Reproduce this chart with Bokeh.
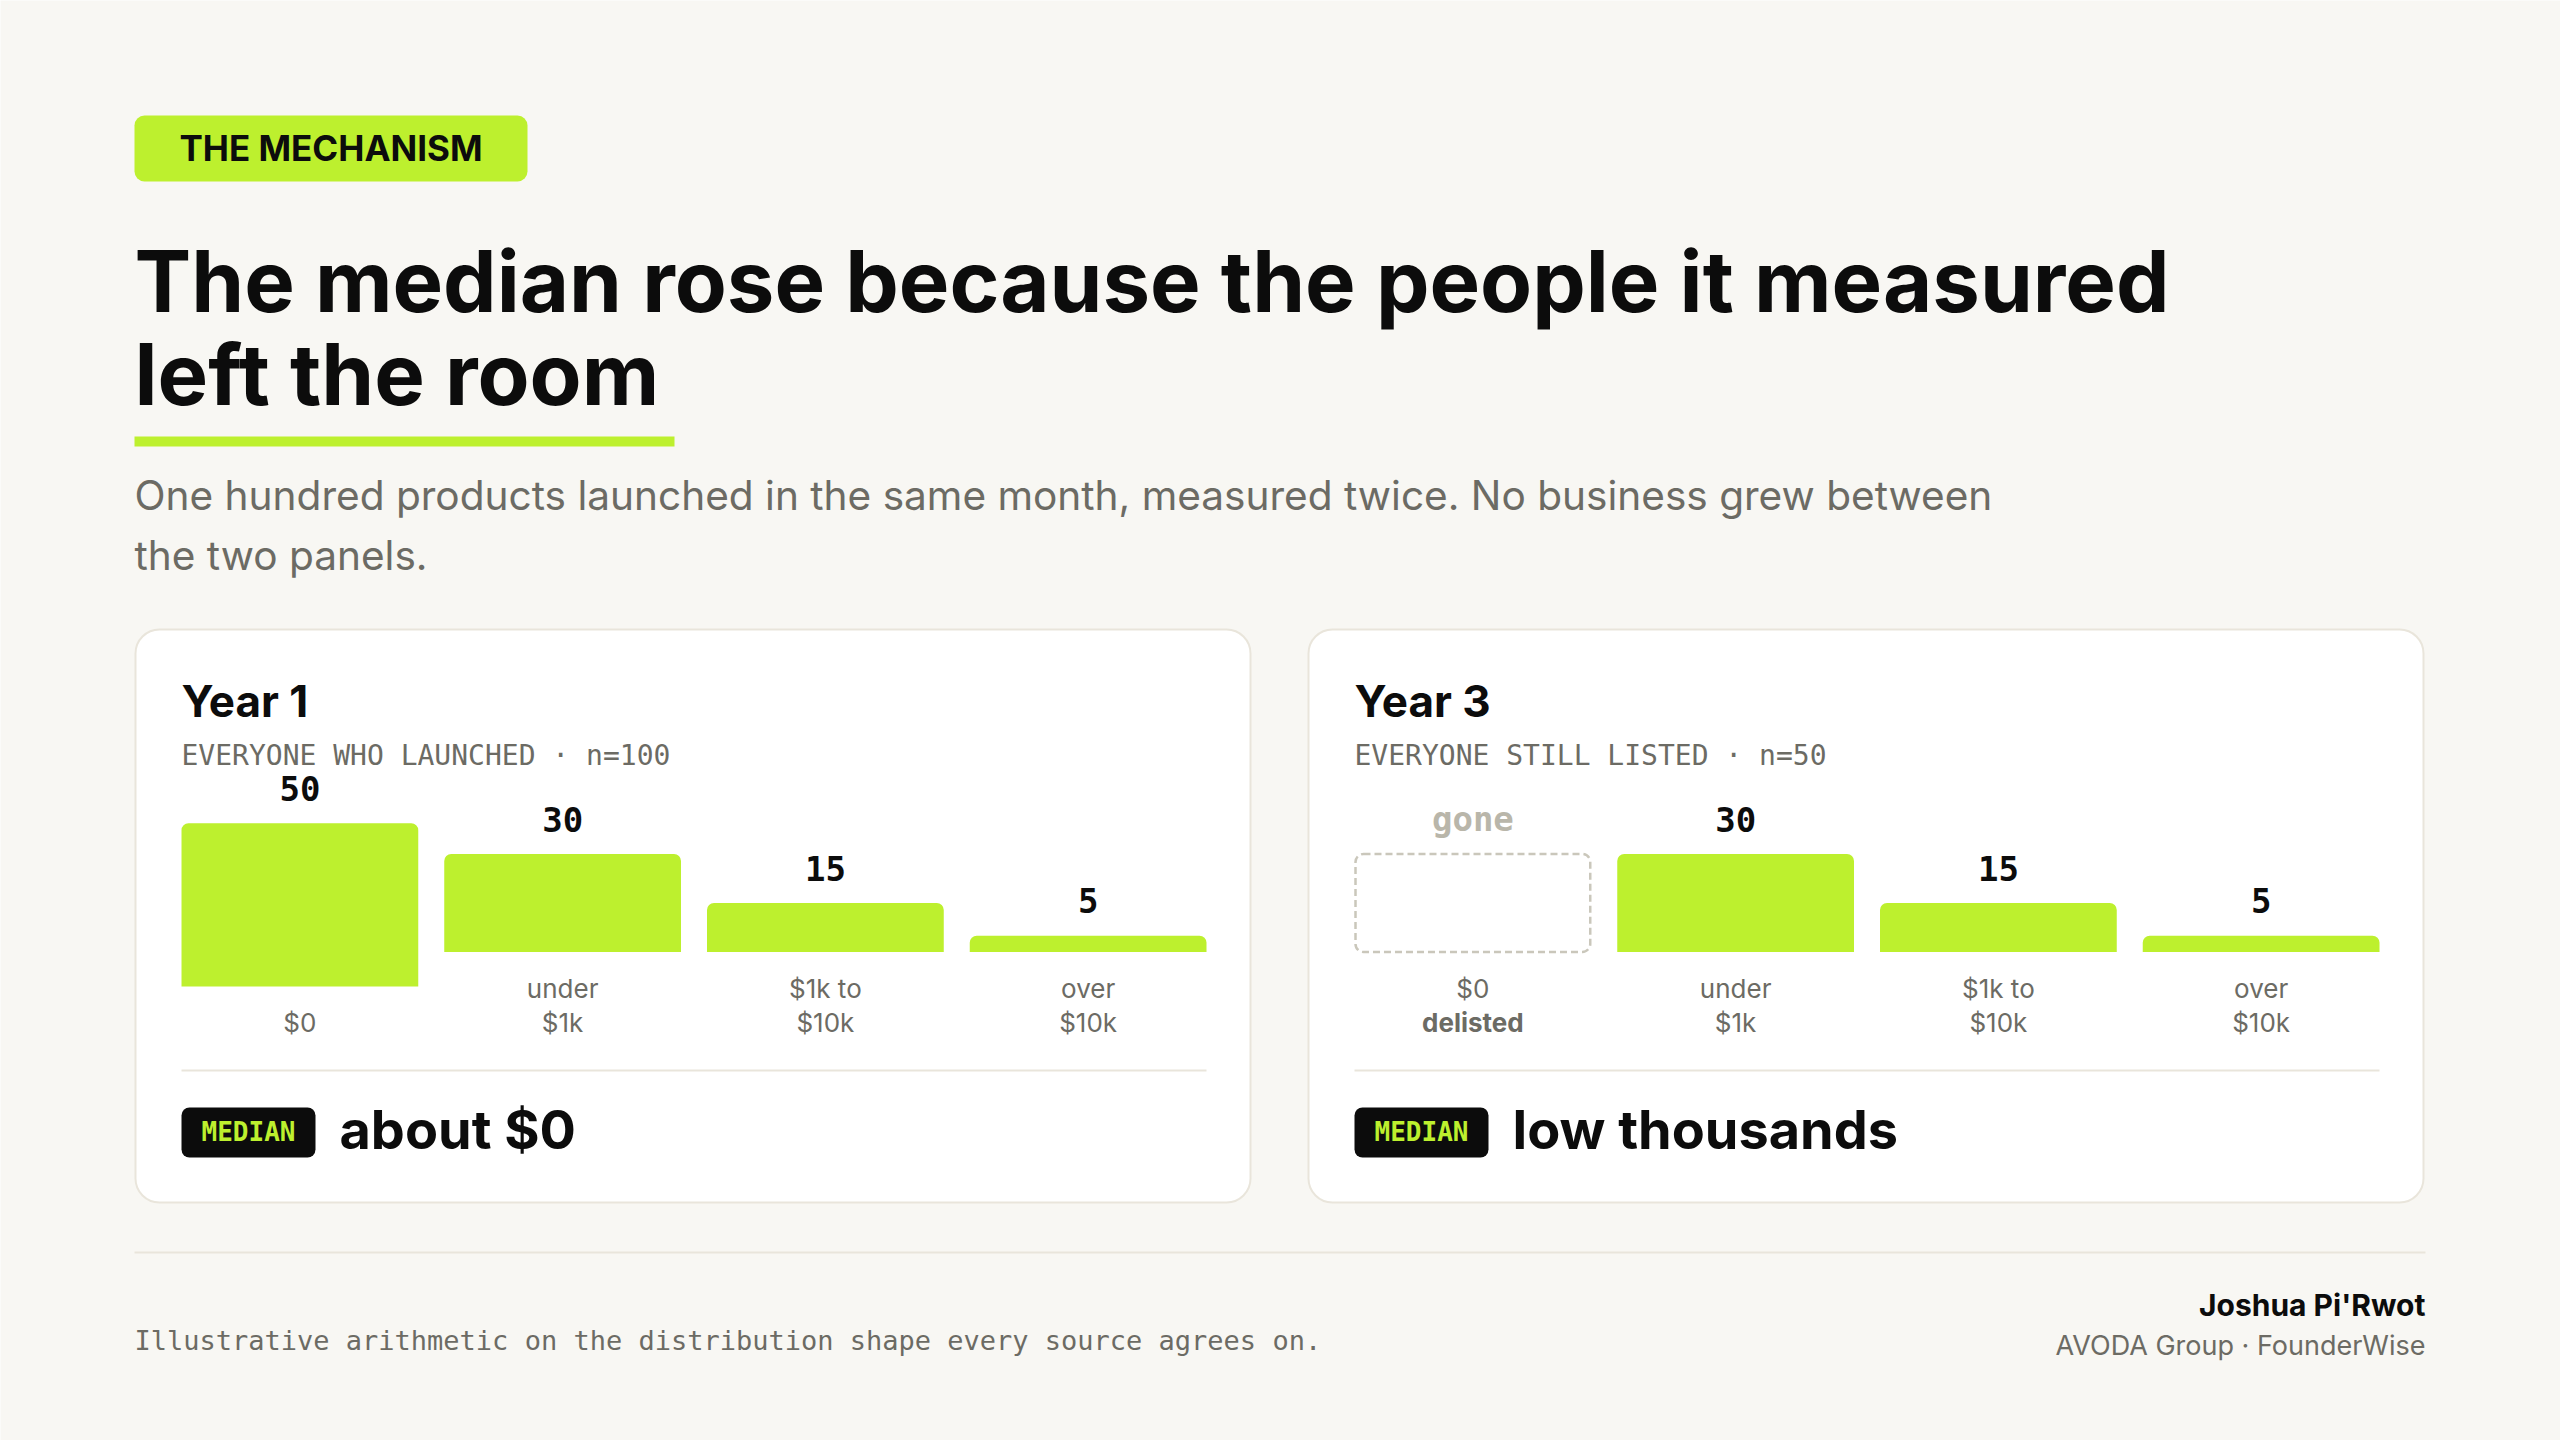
from bokeh.plotting import figure
from bokeh.models import Range1d
from bokeh.core.properties import value
from bokeh.embed import file_html
from bokeh.resources import INLINE

# ---------------- data ----------------
tag_text = "THE MECHANISM"
title_lines = ["The median rose because the people it measured", "left the room"]
subtitle_lines = ["One hundred products launched in the same month, measured twice. No business grew between",
                  "the two panels."]
panel_titles = ["Year 1", "Year 3"]
panel_subtitles = ["EVERYONE WHO LAUNCHED · n=100", "EVERYONE STILL LISTED · n=50"]
year1_labels = [["$0"], ["under", "$1k"], ["$1k to", "$10k"], ["over", "$10k"]]
year3_labels = [["$0", "delisted"], ["under", "$1k"], ["$1k to", "$10k"], ["over", "$10k"]]
year1_counts = [50, 30, 15, 5]
year3_counts = [None, 30, 15, 5]   # the $0 group is gone (delisted)
gone_label = "gone"
median_badge = "MEDIAN"
median_values = ["about $0", "low thousands"]
footnote = "Illustrative arithmetic on the distribution shape every source agrees on."
author = "Joshua Pi'Rwot"
affiliation = "AVODA Group · FounderWise"

# ---------------- style ----------------
BG = "#f8f7f3"
LIME = "#bdf02e"
INK = "#0c0c0c"
GRAY = "#6c6b64"
LIGHT = "#b9b6aa"
RULE = "#e9e5db"
SANS = "Inter"
MONO = "DejaVu Sans Mono"
BASE_FIX = 0.38   # renderer places 'alphabetic' text this many em low

W, H = 2560, 1440
p = figure(width=W, height=H, x_range=Range1d(0, W), y_range=Range1d(0, H),
           output_backend="svg", toolbar_location=None, min_border=0,
           x_axis_location=None, y_axis_location=None,
           background_fill_color=BG, border_fill_color=BG, outline_line_color=None)
p.xgrid.grid_line_color = None
p.ygrid.grid_line_color = None


def fy(y):
    return H - y


def txt(x, y, s, size, color=INK, font=SANS, style="normal", align="left"):
    p.text(x=[x], y=[fy(y - BASE_FIX * size)], text=[s], text_font=value(font), text_font_size=f"{size}px",
           text_font_style=style, text_color=color, text_align=align, text_baseline="alphabetic")


def rrect(l, r, t, b, fill, line=None, lw=0, radius=0, dash="solid"):
    p.quad(left=[l], right=[r], top=[fy(t)], bottom=[fy(b)], fill_color=fill,
           line_color=line, line_width=lw, line_dash=dash, border_radius=radius)


# ---------------- header ----------------
rrect(134, 527, 115, 181, LIME, radius=10)
txt(330.5, 161, tag_text, 35, INK, SANS, "bold", "center")

txt(134, 313, title_lines[0], 85, INK, SANS, "bold")
txt(134, 406, title_lines[1], 85, INK, SANS, "bold")
rrect(134, 674, 436, 446, LIME)

txt(134, 510, subtitle_lines[0], 40.6, GRAY)
txt(134, 570, subtitle_lines[1], 40.6, GRAY)

# ---------------- panels ----------------
PX0 = [135, 1308]
PW = 1115
PAD = 46
CW = 1025
GAP = 26
BW = (CW - 3 * GAP) / 4
K = 3.267          # px per product
LINE = 34.5

panels = [(year1_counts, year1_labels), (year3_counts, year3_labels)]
for i, (counts, labels) in enumerate(panels):
    x0 = PX0[i]
    cx0 = x0 + PAD
    rrect(x0, x0 + PW, 629, 1202, "#ffffff", RULE, 2, 24)
    txt(cx0, 717, panel_titles[i], 44, INK, SANS, "bold")
    txt(cx0, 766, panel_subtitles[i], 28, GRAY, MONO)

    tallest = max(c for c in counts if c is not None)
    xs, tops, bots = [], [], []
    for j, c in enumerate(counts):
        xc = cx0 + BW / 2 + j * (BW + GAP)
        lines = labels[j]
        last_base = 1032
        first_base = last_base - (len(lines) - 1) * LINE
        bottom = first_base - 46
        for k, ln in enumerate(lines):
            bold = (c is None and k == 1)
            txt(xc, first_base + k * LINE, ln, 26, GRAY, SANS, "bold" if bold else "normal", "center")
        if c is None:
            top = bottom - tallest * K
            p.quad(left=[xc - BW / 2 + 1], right=[xc + BW / 2 - 1], top=[fy(top)], bottom=[fy(bottom)],
                   fill_color=None, line_color="#cac7bb", line_width=2.5, line_dash="7 4", border_radius=8)
            txt(xc, top - 22, gone_label, 34, LIGHT, MONO, "bold", "center")
        else:
            top = bottom - c * K
            xs.append(xc)
            tops.append(fy(top))
            bots.append(fy(bottom))
            txt(xc, top - 22, str(c), 34, INK, MONO, "bold", "center")
    p.vbar(x=xs, width=BW, top=tops, bottom=bots, fill_color=LIME, line_color=None,
           border_radius=(7, 7, 0, 0))

    # divider + median
    rrect(cx0, cx0 + CW, 1069, 1071, RULE)
    rrect(cx0, cx0 + 134, 1107, 1157, INK, radius=8)
    txt(cx0 + 67, 1141, median_badge, 26, LIME, MONO, "bold", "center")
    txt(cx0 + 158, 1150, median_values[i], 54, INK, SANS, "bold")

# ---------------- footer ----------------
rrect(134, 2425, 1251, 1253, RULE)
txt(134, 1350, footnote, 27, GRAY, MONO)
txt(2425, 1316, author, 30, INK, SANS, "bold", "right")
txt(2425, 1355, affiliation, 27, GRAY, SANS, "normal", "right")

html = file_html(p, INLINE)
html = html.replace("<body>", f'<body style="background:{BG};">', 1)
open("out.html", "w").write(html)
